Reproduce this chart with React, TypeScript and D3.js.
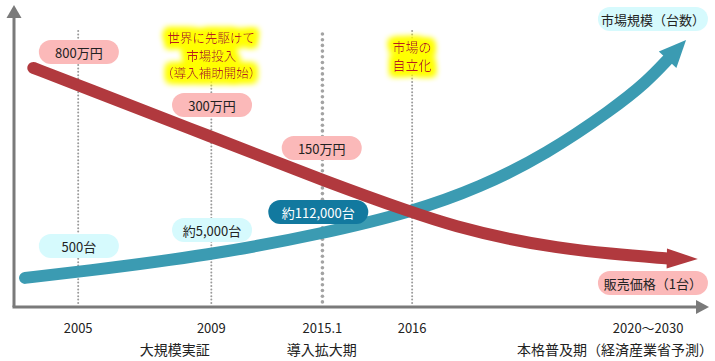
import React, { useEffect, useRef } from "react";
import * as d3 from "d3";

// schematic timeline (0-100) and relative level (0-100)
const stageYears = ["2005", "2009", "2015.1", "2016", "2020〜2030"];
const stagePos = [9.3, 28.6, 44.7, 57.7, 91.9];
const stageGrid = ["light", "light", "bold", "light", "none"];
const phaseNames = ["大規模実証", "導入拡大期", "本格普及期（経済産業省予測）"];
const phasePos = [23.3, 44.6, 87.1];

// 販売価格 curve (red)
const priceT = [2.8, 9.3, 28.6, 45.8, 57.7, 63.9, 71.9, 78.4, 86.4, 94.6];
const priceLevel = [79.7, 74.0, 56.7, 41.3, 31.5, 26.9, 22.5, 19.9, 17.7, 16.2];
const priceTip = [99.1, 16.0];

// 市場規模 curve (blue)
const volumeT = [1.6, 9.3, 28.6, 44.8, 57.7, 67.5, 77.2, 86.8, 91.7];
const volumeLevel = [9.7, 11.7, 17.3, 24.5, 31.7, 39.8, 51.0, 66.0, 75.0];
const volumeTip = [97.4, 89.0];

const priceLabels = ["800万円", "300万円", "150万円"];
const priceLabelT = [9.4, 28.7, 44.6];
const priceLabelLevel = [85, 67.3, 53];

const volumeLabels = ["500台", "約5,000台", "約112,000台"];
const volumeLabelT = [9.4, 28.7, 44.1];
const volumeLabelLevel = [20.3, 25.7, 31.7];

const legendLabels = ["市場規模（台数）", "販売価格（1台）"];
const legendT = [92.6, 92.6];
const legendLevel = [96, 8];

const noteLines1 = ["世界に先駆けて", "市場投入", "（導入補助開始）"];
const noteLines2 = ["市場の", "自立化"];

const W = 715, H = 361;
const FONT = "'Noto Sans CJK JP', 'Noto Sans', sans-serif";

function App() {
  const ref = useRef<SVGSVGElement>(null);

  useEffect(() => {
    const svg = d3.select(ref.current);
    svg.selectAll("*").remove();

    const x = d3.scaleLinear().domain([0, 100]).range([14, 704]);
    const y = d3.scaleLinear().domain([0, 100]).range([307, 7]);

    const defs = svg.append("defs");
    const f = defs.append("filter").attr("id", "glow")
      .attr("x", "-40%").attr("y", "-40%").attr("width", "180%").attr("height", "180%");
    f.append("feMorphology").attr("in", "SourceAlpha").attr("operator", "dilate").attr("radius", 4).attr("result", "d");
    f.append("feGaussianBlur").attr("in", "d").attr("stdDeviation", 3).attr("result", "b");
    f.append("feFlood").attr("flood-color", "#ffff00");
    f.append("feComposite").attr("in2", "b").attr("operator", "in").attr("result", "g");
    const m = f.append("feMerge");
    m.append("feMergeNode").attr("in", "g");
    m.append("feMergeNode").attr("in", "g");
    m.append("feMergeNode").attr("in", "SourceGraphic");

    // vertical dotted guides, drawn as dots
    stagePos.forEach((t, i) => {
      if (stageGrid[i] === "none") return;
      const bold = stageGrid[i] === "bold";
      const step = bold ? 5.7 : 3.4;
      const top = y(bold ? 91 : 92), bottom = y(0) - 2;
      svg.append("g").selectAll("circle")
        .data(d3.range(top, bottom, step))
        .join("circle")
        .attr("cx", x(t))
        .attr("cy", d => d)
        .attr("r", bold ? 1.8 : 1)
        .attr("fill", bold ? "#a3a3a3" : "#9a9a9a");
    });

    // axes
    svg.append("line").attr("x1", x(0)).attr("x2", x(0)).attr("y1", y(0)).attr("y2", 16)
      .attr("stroke", "#7a7a7a").attr("stroke-width", 3);
    svg.append("polygon").attr("points", `${x(0)},5 ${x(0) - 7.5},18 ${x(0) + 7.5},18`).attr("fill", "#7a7a7a");
    svg.append("line").attr("x1", x(0) - 1.5).attr("x2", 699).attr("y1", y(0)).attr("y2", y(0))
      .attr("stroke", "#7a7a7a").attr("stroke-width", 3);
    svg.append("polygon").attr("points", `709,${y(0)} 696,${y(0) - 7} 696,${y(0) + 7}`).attr("fill", "#7a7a7a");

    const drawArrow = (ts: number[], ls: number[], tip: number[], color: string, sw: number, len: number, hw: number) => {
      const pts: [number, number][] = ts.map((t, i) => [x(t), y(ls[i])]);
      const tp: [number, number] = [x(tip[0]), y(tip[1])];
      const last = pts[pts.length - 1];
      const dx = tp[0] - last[0], dy = tp[1] - last[1];
      const dl = Math.hypot(dx, dy);
      const ux = dx / dl, uy = dy / dl;
      const bx = tp[0] - ux * len, by = tp[1] - uy * len;
      const path = d3.line<[number, number]>().curve(d3.curveBasis)(pts.concat([[bx + ux * 2, by + uy * 2]]));
      svg.append("path").attr("d", path).attr("fill", "none")
        .attr("stroke", color).attr("stroke-width", sw).attr("stroke-linecap", "round");
      svg.append("polygon")
        .attr("points", `${tp[0]},${tp[1]} ${bx - uy * hw},${by + ux * hw} ${bx + uy * hw},${by - ux * hw}`)
        .attr("fill", color);
    };

    drawArrow(volumeT, volumeLevel, volumeTip, "#3b9bb2", 12, 27, 12);
    drawArrow(priceT, priceLevel, priceTip, "#b1393e", 12, 31, 10);

    const pill = (text: string, t: number, lv: number, w: number, fill: string, color: string) => {
      const cx = x(t), cy = y(lv), h = 24;
      svg.append("rect").attr("x", cx - w / 2).attr("y", cy - h / 2).attr("width", w).attr("height", h)
        .attr("rx", h / 2).attr("fill", fill);
      svg.append("text").attr("x", cx).attr("y", cy + 0.5).attr("text-anchor", "middle")
        .attr("dominant-baseline", "central").attr("font-family", FONT).attr("font-size", 13)
        .attr("fill", color).text(text);
    };

    priceLabels.forEach((s, i) => pill(s, priceLabelT[i], priceLabelLevel[i], 80, "#fbb9b9", "#222"));
    volumeLabels.forEach((s, i) => pill(s, volumeLabelT[i], volumeLabelLevel[i], i === 2 ? 100 : 80,
      i === 2 ? "#12799f" : "#d6fafd", i === 2 ? "#fff" : "#222"));
    legendLabels.forEach((s, i) => pill(s, legendT[i], legendLevel[i], 110, i === 0 ? "#d6fafd" : "#fbb9b9", "#222"));

    // highlighted notes
    const g1 = svg.append("g").attr("filter", "url(#glow)");
    noteLines1.forEach((s, i) => {
      g1.append("text").attr("x", x(stagePos[1])).attr("y", 43 + i * 17.5).attr("text-anchor", "middle")
        .attr("font-family", FONT).attr("font-size", 12.5).attr("fill", "#bb1a1c").text(s);
    });
    const g2 = svg.append("g").attr("filter", "url(#glow)");
    noteLines2.forEach((s, i) => {
      g2.append("text").attr("x", x(stagePos[3])).attr("y", 52 + i * 17.5).attr("text-anchor", "middle")
        .attr("font-family", FONT).attr("font-size", 13).attr("fill", "#bb1a1c").text(s);
    });

    // x labels
    stageYears.forEach((s, i) => {
      svg.append("text").attr("x", x(stagePos[i])).attr("y", 333).attr("text-anchor", "middle")
        .attr("font-family", FONT).attr("font-size", 13).attr("fill", "#222").text(s);
    });
    phaseNames.forEach((s, i) => {
      svg.append("text").attr("x", x(phasePos[i])).attr("y", 355).attr("text-anchor", "middle")
        .attr("font-family", FONT).attr("font-size", 14).attr("fill", "#222").text(s);
    });
  }, []);

  return (
    <svg ref={ref} width={W} height={H}
      style={{ position: "absolute", left: 0, top: 0, background: "#fff" }} />
  );
}

export default App;
